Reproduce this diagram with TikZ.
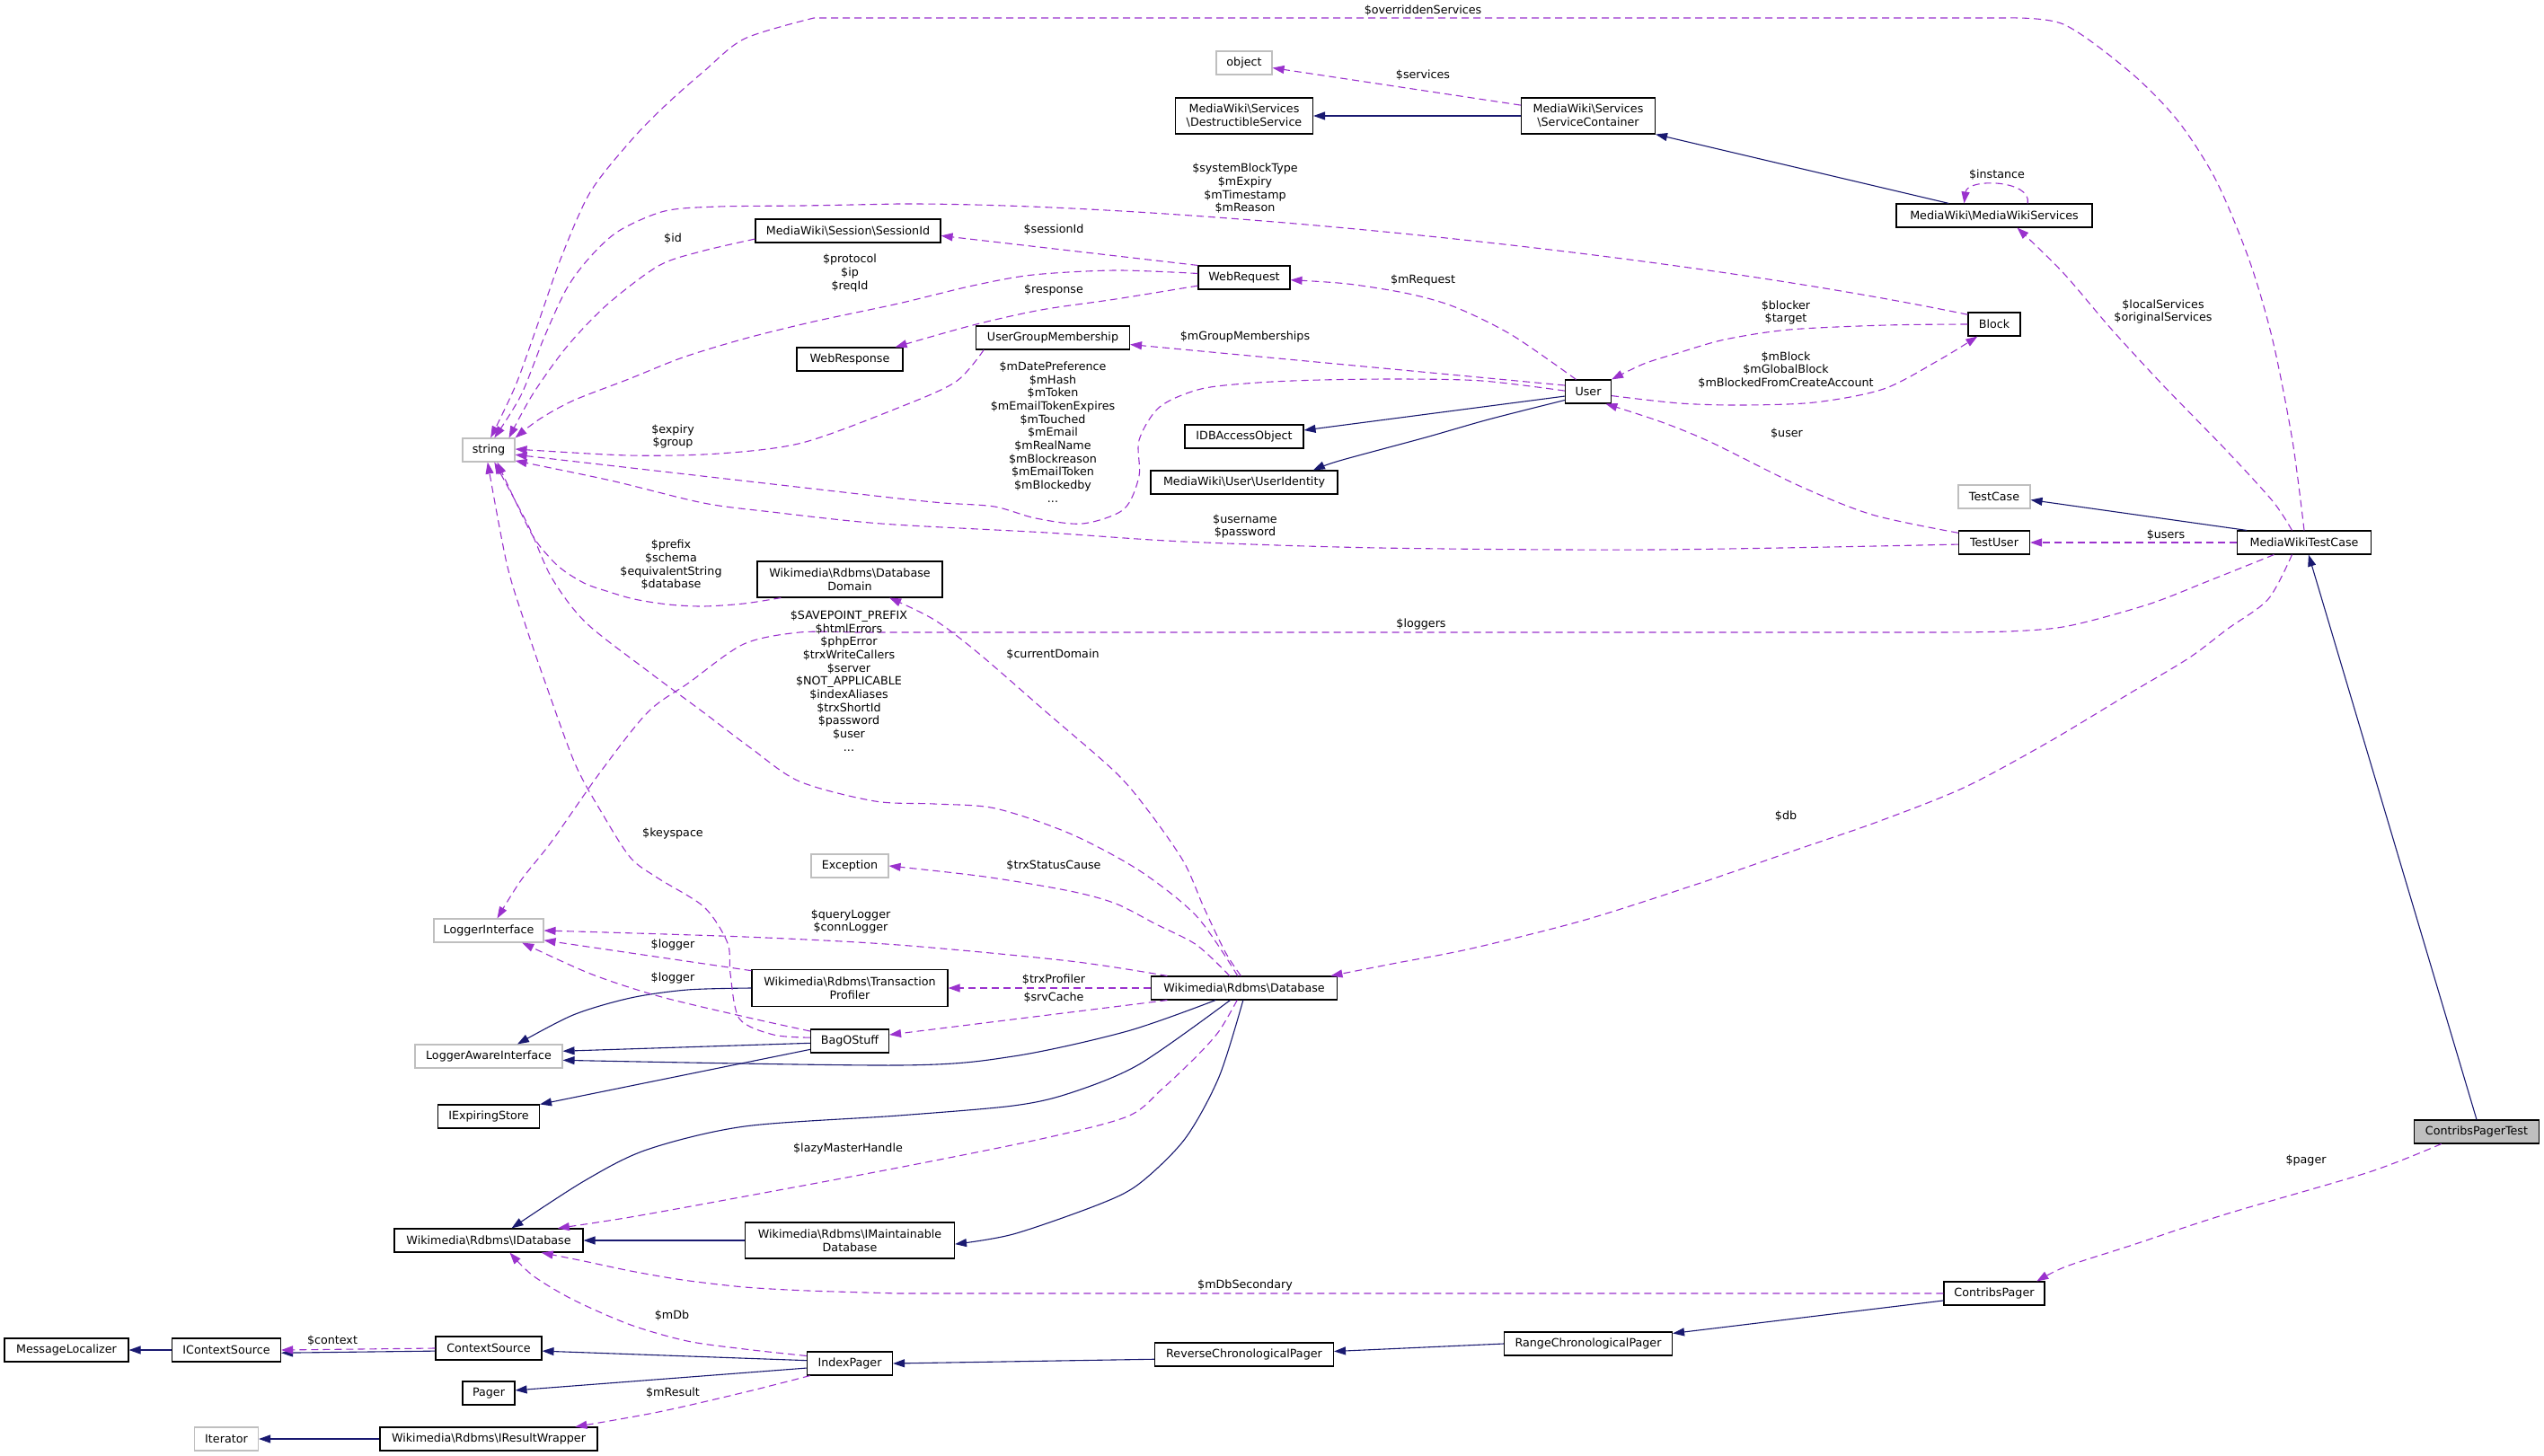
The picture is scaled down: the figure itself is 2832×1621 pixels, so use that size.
\documentclass[tikz,border=0pt]{standalone}
\usepackage{fontspec}
\newfontfamily\dvsans{DejaVu Sans}
\usetikzlibrary{arrows.meta}

\definecolor{navyline}{HTML}{191970}
\definecolor{usepurple}{HTML}{9A32CD}
\newcommand{\nsep}{\textbackslash}

\tikzset{
  cls/.style={draw=black, fill=white, line width=1.1pt, inner sep=0pt, minimum height=26,
    align=center, font=\dvsans\fontsize{12.7}{14.7}\selectfont},
  ext/.style={cls, draw=gray!50},
  lbl/.style={inner sep=0pt, align=center, font=\dvsans\fontsize{12.7}{14.7}\selectfont},
  inhline/.style={draw=navyline, line width=1.1pt, -{Triangle[length=13pt,width=9pt]}},
  useline/.style={draw=usepurple, line width=1.1pt, dash pattern=on 8pt off 5pt,
    -{Triangle[length=13pt,width=9pt]}},
}

\begin{document}
\begin{tikzpicture}[x=1pt, y=-1pt]
    \useasboundingbox (0,0) rectangle (2832,1621);

    % Classes (black frame)
    \node[cls, minimum width=153, minimum height=40] (destr) at (1385,129) {MediaWiki\nsep Services\\\nsep DestructibleService};
    \node[cls, minimum width=149, minimum height=40] (svccont) at (1768,129) {MediaWiki\nsep Services\\\nsep ServiceContainer};
    \node[cls, minimum width=218] (mwserv) at (2220,240) {MediaWiki\nsep MediaWikiServices};
    \node[cls, minimum width=206] (sessid) at (944,257) {MediaWiki\nsep Session\nsep SessionId};
    \node[cls, minimum width=102] (webreq) at (1385,309) {WebRequest};
    \node[cls, minimum width=58] (block) at (2220,361) {Block};
    \node[cls, minimum width=171] (ugm) at (1172,376) {UserGroupMembership};
    \node[cls, minimum width=118] (webresp) at (946,400) {WebResponse};
    \node[cls, minimum width=51] (user) at (1768,436) {User};
    \node[cls, minimum width=132] (idbao) at (1385,486) {IDBAccessObject};
    \node[cls, minimum width=208] (uident) at (1385,537) {MediaWiki\nsep User\nsep UserIdentity};
    \node[cls, minimum width=79] (testuser) at (2220,604) {TestUser};
    \node[cls, minimum width=149] (mwtc) at (2565,604) {MediaWikiTestCase};
    \node[cls, minimum width=206, minimum height=40] (dbdomain) at (946,645) {Wikimedia\nsep Rdbms\nsep Database\\Domain};
    \node[cls, minimum width=207] (dbase) at (1385,1100) {Wikimedia\nsep Rdbms\nsep Database};
    \node[cls, minimum width=218, minimum height=41] (trxprof) at (946,1100) {Wikimedia\nsep Rdbms\nsep Transaction\\Profiler};
    \node[cls, minimum width=87] (bag) at (946,1159) {BagOStuff};
    \node[cls, minimum width=113] (iexpiring) at (544,1243) {IExpiringStore};
    \node[cls, minimum width=139, fill=gray!50] (contribstest) at (2757,1260) {ContribsPagerTest};
    \node[cls, minimum width=210] (idatabase) at (544,1381) {Wikimedia\nsep Rdbms\nsep IDatabase};
    \node[cls, minimum width=233, minimum height=40] (imaint) at (946,1381) {Wikimedia\nsep Rdbms\nsep IMaintainable\\Database};
    \node[cls, minimum width=112] (contribs) at (2220,1440) {ContribsPager};
    \node[cls, minimum width=187] (rangepager) at (1768,1496) {RangeChronologicalPager};
    \node[cls, minimum width=138] (msgloc) at (74,1503) {MessageLocalizer};
    \node[cls, minimum width=121] (icontext) at (252,1503) {IContextSource};
    \node[cls, minimum width=118] (ctxsrc) at (544,1501) {ContextSource};
    \node[cls, minimum width=199] (revpager) at (1385,1508) {ReverseChronologicalPager};
    \node[cls, minimum width=95] (indexpager) at (946,1518) {IndexPager};
    \node[cls, minimum width=58] (pager) at (544,1551) {Pager};
    \node[cls, minimum width=242] (iresult) at (544,1602) {Wikimedia\nsep Rdbms\nsep IResultWrapper};

    % External classes (grey frame)
    \foreach \nm/\x/\y/\w/\t in {object/1385/70/62/object, string/544/501/58/string,
        testcase/2220/553/80/TestCase, exception/946/964/86/Exception,
        loggeri/544/1036/122/LoggerInterface, loggeraware/544/1176/164/LoggerAwareInterface,
        iterator/252/1602/71/Iterator} {
        \node[ext, minimum width=\w] (\nm) at (\x,\y) {\t};
    }

    % Inheritance (solid)
    \draw[inhline] (contribstest.north) -- (mwtc.-70);
    \draw[inhline] (mwtc.168) -- (testcase.-5);
    \draw[inhline] (mwserv.165) -- (svccont.south east);
    \draw[inhline] (svccont.west) -- (destr.east);
    \draw[inhline] (user.191) -- (idbao.6);
    \draw[inhline] plot[smooth] coordinates {(user.200) (1657,467) (1587,487) (1491,513) (uident.10)};
    \draw[inhline] (contribs.-172) -- (rangepager.7);
    \draw[inhline] (rangepager.west) -- (revpager.2);
    \draw[inhline] (revpager.-177) -- (indexpager.east);
    \draw[inhline] (indexpager.176) -- (ctxsrc.-3);
    \draw[inhline] (indexpager.-174) -- (pager.6);
    \draw[inhline] (ctxsrc.-177) -- (icontext.-3);
    \draw[inhline] (icontext.west) -- (msgloc.east);
    \draw[inhline] (iresult.west) -- (iterator.east);
    \draw[inhline] (imaint.west) -- (idatabase.east);
    \draw[inhline] plot[smooth] coordinates {(dbase.-157) (1255,1148) (1128,1176) (1000,1186) (loggeraware.-3)};
    \draw[inhline] plot[smooth] coordinates {(dbase.-139) (1268,1185) (1191,1217) (1128,1231) (1000,1242) (829,1254) (720,1280) (650,1315) (idatabase.28)};
    \draw[inhline] plot[smooth] coordinates {(dbase.-95) (1357,1199) (1319,1268) (1268,1318) (1223,1341) (1128,1374) (imaint.-2)};
    \draw[inhline] plot[smooth] coordinates {(trxprof.west) (765,1102) (702,1111) (638,1130) (loggeraware.23)};
    \draw[inhline] (bag.-177) -- (loggeraware.4);
    \draw[inhline] (bag.-168) -- (iexpiring.north east);

    % Usage (dashed) - top part
    \draw[useline] plot[smooth] coordinates {(mwtc.north) (2552,491) (2530,379) (2504,290) (2467,201) (2424,134) (2371,80) (2297,27) (2233,20)}
        -- (906,20) -- plot[smooth] coordinates {(906,20) (829,43) (784,79) (740,118) (702,157) (657,214) (625,286) (600,357) (574,429) (string.81)};
    \draw[useline] (block.160) .. controls (1850,280) and (1300,226) .. (1000,227)
        -- plot[smooth] coordinates {(1000,227) (893,229) (800,230) (740,235) (689,257) (657,286) (631,321) (606,375) (580,440) (string.65)};
    \draw[useline] plot[smooth] coordinates {(webreq.175) (1242,301) (1150,306) (1083,318) (1000,338) (906,358) (829,377) (760,398) (700,422) (638,446) (600,467) (string.north east)};
    \draw[useline] (webreq.north west) -- (sessid.-3);
    \draw[useline] plot[smooth] coordinates {(sessid.185) (780,280) (733,296) (676,339) (631,386) (593,439) (string.31)};
    \draw[useline] plot[smooth] coordinates {(webreq.190) (1242,333) (1159,345) (1083,362) (webresp.15)};
    \draw[useline] plot[smooth] coordinates {(user.135) (1683,373) (1620,342) (1568,327) (1500,316) (webreq.-3)};
    \draw[useline] (user.165) -- (ugm.-5);
    \draw[useline] plot[smooth] coordinates {(user.178) (1650,424) (1560,422) (1470,423) (1400,426) (1337,433) (1291,453) (1268,490) (1268,530) (1251,567) (1205,583) (1153,577) (1107,564) (1050,560) (1000,555)}
        -- (string.-10);
    \draw[useline] plot[smooth] coordinates {(ugm.190) (1064,425) (1000,454) (893,493) (800,505) (700,507) (string.2)};
    \draw[useline] plot[smooth] coordinates {(block.west) (2100,362) (1992,367) (1920,378) (1868,393) (1830,405) (user.north east)};
    \draw[useline] plot[smooth] coordinates {(user.-10) (1870,449) (1938,451) (2020,448) (2097,433) (2160,400) (block.-144)};
    \draw[useline] plot[smooth] coordinates {(testuser.165) (2084,573) (2001,540) (1906,493) (1850,470) (user.-35)};
    \draw[useline] plot[smooth] coordinates {(testuser.183) (1842,612) (1536,610) (1318,603) (1165,593) (981,583) (859,570) (783,560) (680,535) (string.-22)};
    \draw[useline] (mwtc.west) -- (testuser.east);
    \draw[useline] plot[smooth] coordinates {(mwtc.135) (2530,558) (2477,500) (2408,429) (2350,366) (2297,304) (mwserv.-28)};
    \draw[useline] (svccont.171) -- (object.-10);
    \draw[useline] (mwserv.20) .. controls (2262,200) and (2190,198) .. (mwserv.158);

    % Usage (dashed) - lower part
    \draw[useline] plot[smooth] coordinates {(mwtc.-158) (2458,647) (2391,673) (2302,697) (2235,703) (2150,704)}
        -- (950,704) -- plot[smooth] coordinates {(950,704) (890,704) (828,717) (767,760) (721,793) (668,860) (614,937) (580,980) (loggeri.55)};
    \draw[useline] plot[smooth] coordinates {(mwtc.-135) (2525,667) (2480,700) (2436,733) (2369,773) (2279,827) (2186,877) (2090,915) (2000,946) (1893,983) (1765,1024) (1638,1056) (1550,1073) (dbase.8)};
    \draw[useline] plot[smooth] coordinates {(contribstest.-161) (2637,1305) (2477,1352) (2371,1387) (2300,1410) (contribs.16)};
    \draw[useline] (contribs.west) -- (1000,1440)
        -- plot[smooth] coordinates {(1000,1440) (900,1437) (829,1433) (760,1425) (702,1415) (650,1404) (idatabase.-13)};
    \draw[useline] plot[smooth] coordinates {(indexpager.170) (829,1502) (765,1493) (702,1475) (638,1447) (593,1420) (idatabase.-30)};
    \draw[useline] plot[smooth] coordinates {(indexpager.-163) (829,1550) (733,1572) (iresult.8)};
    \draw[useline] (ctxsrc.west) -- (icontext.east);

    % Usage (dashed) - Database and friends
    \draw[useline] plot[smooth] coordinates {(dbase.118) (1332,1020) (1268,969) (1191,928) (1108,900) (1040,895) (974,892) (890,870) (836,833) (783,793) (721,747) (652,693) (614,643) (588,585) (string.-65)};
    \draw[useline] plot[smooth] coordinates {(dbase.105) (1364,1060) (1340,1010) (1318,960) (1280,905) (1242,860) (1165,793) (1089,727) (1040,690) (dbdomain.-25)};
    \draw[useline] plot[smooth] coordinates {(dbase.140) (1332,1052) (1287,1029) (1242,1006) (1191,992) (1096,976) (exception.east)};
    \draw[useline] plot[smooth] coordinates {(dbase.171) (1191,1070) (1000,1052) (829,1043) (loggeri.east)};
    \draw[useline] (dbase.west) -- (trxprof.east);
    \draw[useline] (dbase.-171) -- (bag.9);
    \draw[useline] plot[smooth] coordinates {(dbase.-120) (1357,1148) (1332,1176) (1293,1213) (1255,1243) (1159,1268) (1000,1300) (829,1332) (702,1355) (idatabase.10)};
    \draw[useline] (trxprof.170) -- (loggeri.-10);
    \draw[useline] plot[smooth] coordinates {(bag.166) (829,1132) (733,1109) (657,1084) (loggeri.-20)};
    \draw[useline] plot[smooth] coordinates {(bag.175) (861,1152) (823,1134) (813,1084) (810,1050) (784,1010) (733,978) (702,955) (670,905) (640,850) (607,760) (584,693) (564,627) (string.-95)};
    \draw[useline] plot[smooth] coordinates {(dbdomain.-165) (828,672) (783,675) (744,673) (706,667) (675,658) (652,650) (630,637) (614,623) (591,593) (string.-55)};

    % Edge labels
    \foreach \nm/\x/\y/\t in {overridden/1584/12/\$overriddenServices, services/1584/84/\$services,
        instance/2223/195/\$instance, sessionid/1173/256/\$sessionId, id/749/266/\$id,
        mrequest/1584/312/\$mRequest, response/1173/323/\$response, mgroup/1386/375/\$mGroupMemberships,
        user/1989/483/\$user, users/2411/596/\$users, loggers/1582/695/\$loggers,
        curdomain/1172/729/\$currentDomain, db/1988/909/\$db, keyspace/749/928/\$keyspace,
        trxstatus/1173/964/\$trxStatusCause, loggera/749/1052/\$logger, loggerb/749/1089/\$logger,
        trxprofiler/1173/1091/\$trxProfiler, srvcache/1173/1111/\$srvCache, lazy/944/1279/\$lazyMasterHandle,
        pager/2567/1292/\$pager, mdbsec/1386/1431/\$mDbSecondary, mdb/748/1465/\$mDb,
        context/370/1493/\$context, mresult/749/1551/\$mResult} {
        \node[lbl] (l-\nm) at (\x,\y) {\t};
    }
    \node[lbl] (l-sysblock) at (1386,210) {\$systemBlockType\\\$mExpiry\\\$mTimestamp\\\$mReason};
    \node[lbl] (l-protocol) at (946,304) {\$protocol\\\$ip\\\$reqId};
    \node[lbl] (l-blocker) at (1988,348) {\$blocker\\\$target};
    \node[lbl] (l-localserv) at (2408,347) {\$localServices\\\$originalServices};
    \node[lbl] (l-mblock) at (1988,412) {\$mBlock\\\$mGlobalBlock\\\$mBlockedFromCreateAccount};
    \node[lbl] (l-mdate) at (1172,481) {\$mDatePreference\\\$mHash\\\$mToken\\\$mEmailTokenExpires\\\$mTouched\\\$mEmail\\\$mRealName\\\$mBlockreason\\\$mEmailToken\\\$mBlockedby\\...};
    \node[lbl] (l-expiry) at (749,486) {\$expiry\\\$group};
    \node[lbl] (l-username) at (1386,586) {\$username\\\$password};
    \node[lbl] (l-prefix) at (747,629) {\$prefix\\\$schema\\\$equivalentString\\\$database};
    \node[lbl] (l-savepoint) at (945,758) {\$SAVEPOINT\_PREFIX\\\$htmlErrors\\\$phpError\\\$trxWriteCallers\\\$server\\\$NOT\_APPLICABLE\\\$indexAliases\\\$trxShortId\\\$password\\\$user\\...};
    \node[lbl] (l-querylogger) at (947,1026) {\$queryLogger\\\$connLogger};

\end{tikzpicture}
\end{document}
